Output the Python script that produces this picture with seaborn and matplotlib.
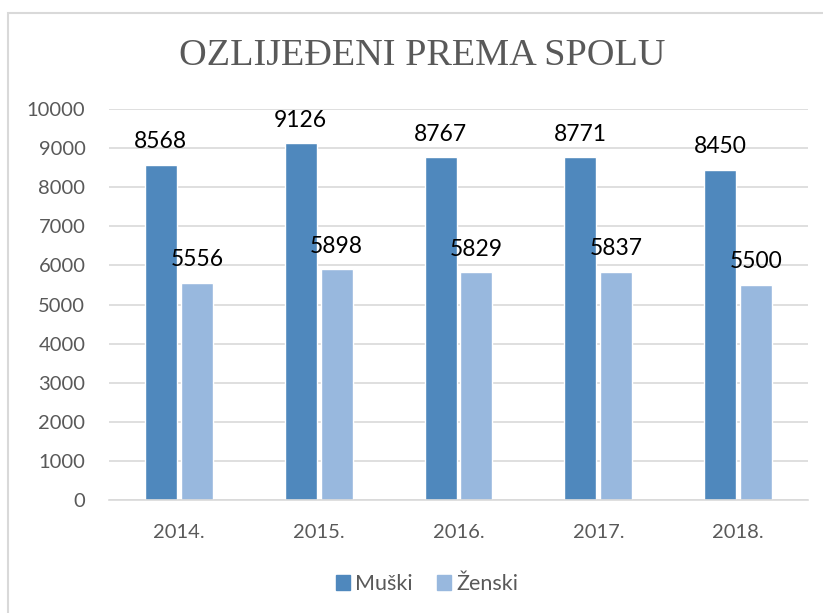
import matplotlib
matplotlib.use("Agg")
import matplotlib.pyplot as plt
import seaborn as sns
import pandas as pd
from matplotlib.patches import Rectangle

years = ["2014.", "2015.", "2016.", "2017.", "2018."]
muski = [8568, 9126, 8767, 8771, 8450]
zenski = [5556, 5898, 5829, 5837, 5500]
series = ["Muški", "Ženski"]
colors = ["#4f88bd", "#98b8de"]

df = pd.DataFrame({
    "year": years * 2,
    "value": muski + zenski,
    "spol": [series[0]] * len(years) + [series[1]] * len(years),
})

sns.set_theme(style="white")
plt.rcParams["font.family"] = ["Lato", "DejaVu Sans"]

fig = plt.figure(figsize=(8.23, 6.13), dpi=100)
ax = fig.add_axes([109 / 823, 113 / 613, 699 / 823, 391 / 613])

sns.barplot(data=df, x="year", y="value", hue="spol", palette=colors,
            width=0.514, gap=0.11, ax=ax, legend=False, saturation=1)

for cont in ax.containers:
    ax.bar_label(cont, fmt="%d", padding=9, fontsize=16.5, color="black")

ax.set_ylim(0, 10000)
ax.set_xlim(-0.5, 4.5)
ax.set_yticks(range(0, 10001, 1000))
ax.yaxis.grid(True, color="#d9d9d9", linewidth=1.2)
ax.set_axisbelow(True)
for s in ["top", "right", "left"]:
    ax.spines[s].set_visible(False)
ax.spines["bottom"].set_color("#d9d9d9")
ax.spines["bottom"].set_linewidth(1.2)
ax.tick_params(axis="both", length=0, labelsize=14.5, colors="#595959")
ax.tick_params(axis="x", pad=17)
ax.tick_params(axis="y", pad=17)
ax.set_xlabel("")
ax.set_ylabel("")

fig.text(0.513, 1 - 56 / 613, "OZLIJEĐENI PREMA SPOLU", ha="center", va="center",
         fontsize=27.5, color="#595959", family="Liberation Serif")

handles = [Rectangle((0, 0), 1, 1, color=c) for c in colors]
fig.legend(handles, series, loc="center", bbox_to_anchor=(0.519, 1 - 584 / 613),
           ncol=2, frameon=False, fontsize=15.5, handlelength=0.65, handleheight=0.65,
           handletextpad=0.25, columnspacing=1.1, labelcolor="#595959")

fig.patches.append(Rectangle((8 / 823, -0.1), 1.2, 1 - 13 / 613 + 0.1,
                             transform=fig.transFigure, fill=False,
                             edgecolor="#d9d9d9", linewidth=1.5))

fig.savefig("out.png", dpi=100)
